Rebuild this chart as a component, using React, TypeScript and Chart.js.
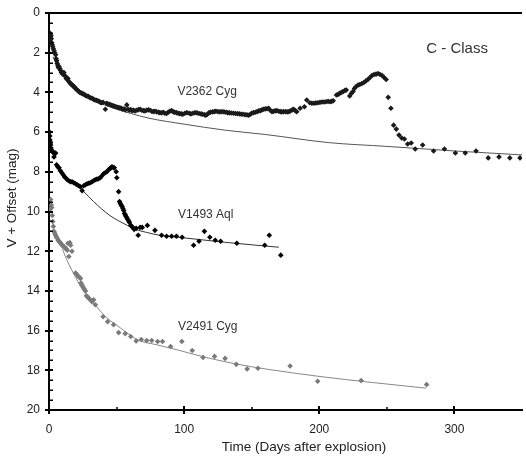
import React, { useEffect, useRef } from "react";
import { Chart, registerables } from "chart.js";

Chart.register(...registerables);

// ---- data: [day, mag] ----
const v2362Days = [0.5,0.8,1.0,1.2,1.5,1.7,2.0,2.4,2.8,3.2,3.7,4.2,4.9,5.3,5.7,6.1,6.6,7.0,7.4,8.0,8.6,9.2,9.8,10.5,11.0,11.6,12.3,12.8,13.5,14.0,14.7,15.3,15.9,16.5,17.2,18.0,18.8,19.6,20.4,21.2,22.0,22.8,23.6,24.4,25.2,26.0,27.0,28.0,29.0,30.0,31.0,32.0,33.0,34.0,35.0,36.0,37.0,38.0,39.0,40.0,41.7,42.5,43.5,44.5,45.5,46.5,47.5,48.5,49.5,50.5,51.5,52.5,53.5,54.5,55.5,56.5,57.6,58.5,59.5,60.5,61.5,62.5,63.7,65,66.2,67.4,68.6,70,71,72.3,73.5,74.8,76,77.2,78.4,79.6,81,82,83.3,84.5,85.7,87,88.2,89.4,90.7,92,93,94.3,95.5,96.7,98,99,100.5,102,103.7,105,106.5,108,109.5,111,112.5,113.5,115,116,117.2,118.4,119.5,121,122.3,123.5,125,126.5,128,129.5,131,132.3,133.5,135,136.5,138,139.5,141,142.3,143.5,145,146.5,147.8,149,150,151.3,152.7,154,155.2,156.4,157.6,158.8,160,161.3,162.5,163.7,165,166.2,167.4,168.6,170,171.2,172.3,173.5,175,176.2,177.5,178.7,180,181,182.2,183.3,185.8,189,190.7,193,194.5,196,197.5,199,200.5,202,203.5,205,206.5,208,209.2,210.3,212.7,214,215,216.3,217.6,219,220,222.5,223.7,225,226,227.3,228.7,230,231.5,233,234.5,236,237.5,239,240.5,242,243.5,245,246.5,248,249.5,251,253,255,257,259,261,263,265.4,268,271,276.5,284.6,292.6,300.7,308,316,325,333,341,348.5];
const v2362Mags = [1.0,1.1,1.25,1.45,1.15,1.3,1.5,1.6,1.7,1.8,1.9,2.0,2.1,2.3,2.4,2.55,2.65,2.75,2.7,2.8,2.9,3.0,3.05,3.1,3.0,3.15,3.2,3.3,3.35,3.3,3.45,3.5,3.55,3.6,3.62,3.7,3.72,3.8,3.85,3.9,3.95,4.0,4.02,4.05,4.08,4.1,4.15,4.18,4.2,4.25,4.28,4.3,4.35,4.38,4.4,4.42,4.45,4.5,4.52,4.5,4.85,4.55,4.58,4.6,4.62,4.65,4.68,4.7,4.72,4.75,4.76,4.78,4.8,4.85,4.82,4.88,4.63,4.85,4.9,4.87,4.92,4.9,4.93,4.9,4.87,4.85,4.9,4.92,4.93,4.9,4.88,4.9,4.95,4.97,4.95,4.98,5.0,5.02,5.03,5.0,5.05,5.06,5.0,4.95,4.92,4.98,5.0,5.02,5.05,5.07,5.08,5.1,5.05,5.02,5.05,5.08,5.05,5.02,5.03,5.06,5.08,5.1,5.12,5.15,5.1,5.02,5.0,4.98,4.97,4.95,4.97,4.98,4.97,4.98,5.0,5.02,5.03,5.04,5.05,5.06,5.07,5.08,5.1,5.1,5.12,5.13,5.15,5.1,5.05,5.02,5.0,4.97,4.93,4.92,4.88,4.85,4.83,4.82,4.8,4.9,4.97,4.95,4.93,4.92,4.95,4.97,4.98,4.97,4.97,4.98,4.97,4.93,4.88,4.85,4.92,4.97,4.8,4.72,4.38,4.52,4.55,4.55,4.53,4.52,4.5,4.48,4.48,4.47,4.45,4.47,4.45,4.42,4.13,4.1,4.05,4.0,3.96,3.9,3.88,4.18,4.05,3.95,3.8,3.7,3.63,3.6,3.55,3.5,3.42,3.35,3.25,3.15,3.1,3.08,3.05,3.1,3.15,3.25,3.35,4.25,4.8,5.65,5.85,6.15,6.3,6.35,6.6,6.55,6.85,6.65,6.95,6.85,7.05,7.05,6.95,7.3,7.25,7.3,7.3];

const v1493Days = [0.4,0.6,0.7,1.0,1.2,1.5,1.7,2.2,2.7,3.2,3.7,4.3,4.9,5.6,6.5,7.4,8.4,9.5,10.5,11.4,12.3,13.5,14.7,15.8,17,18.3,19.6,20.8,22,23.2,24.5,25.7,27,28.2,29.4,30.6,31.8,33,34.2,35.5,36.7,38,39.2,40.4,41.6,42.9,44,45,45.8,46.6,47.5,48.3,49.7,50.2,51.5,52.2,52.8,53.4,54.1,54.7,55.3,55.9,56.5,57,57.7,58.3,59,59.5,60.5,61.2,62,63,64.5,66,67.4,69,72.8,78.4,83.3,87,90.7,94.3,98.5,107,111,115,119,123,127,139,159.6,163,171.5];
const v1493Mags = [6.0,6.2,6.4,6.55,6.65,6.8,6.9,6.95,7.0,7.0,7.25,7.1,7.05,7.65,7.75,7.8,7.95,8.05,8.15,8.25,8.3,8.4,8.45,8.5,8.5,8.55,8.6,8.65,8.7,8.75,8.95,8.7,8.65,8.6,8.58,8.55,8.5,8.45,8.4,8.37,8.35,8.3,8.2,8.1,8.05,8.0,7.9,7.85,7.8,7.75,7.78,7.8,8.0,8.3,9.0,9.5,9.6,9.67,9.75,9.85,9.95,10.1,10.18,10.25,10.33,10.4,10.48,10.55,10.7,10.75,10.8,10.9,10.85,11.2,10.8,10.8,10.7,10.95,11.2,11.25,11.25,11.25,11.3,11.7,11.5,11.0,11.3,11.45,11.5,11.6,11.7,11.2,12.2];

const v2491Days = [0.7,1.2,1.7,2.0,2.4,2.8,3.2,3.7,4.3,4.9,5.5,6.1,6.8,7.4,8.0,8.6,9.2,9.8,10.4,11,11.6,12.3,12.9,13.5,14,14.7,15.4,16,17,19.6,20.4,21.3,22.3,23.3,23.7,24.5,25.2,26,27,27.7,28.5,29.4,30.6,31.8,33,34.3,40,43.4,47.8,51.5,56.4,60.5,64.5,68.3,72.3,76,80.4,84,90,98.3,106,114,122.5,130.3,138.6,146.6,154.6,178.4,198.8,231,279.4];
const v2491Mags = [9.9,9.4,9.67,9.8,10.2,10.5,10.75,11.0,11.1,11.2,11.3,11.35,11.45,11.5,11.55,11.6,11.65,11.7,11.75,11.77,11.8,11.85,11.9,11.95,11.6,12.27,11.57,11.7,12.0,13.1,13.15,13.25,13.3,13.37,13.6,13.7,13.8,13.9,14.0,14.25,14.3,14.37,14.45,14.55,14.45,14.7,15.3,15.55,15.7,16.1,16.15,16.3,16.52,16.45,16.5,16.5,16.55,16.55,16.8,16.55,17.0,17.35,17.3,17.4,17.7,17.93,17.9,17.78,18.55,18.52,18.72];

// fitted curves
const fit2362Days = [3,6,10,15,20,30,40,50,60,74,100,130,160,207,250,300,350];
const fit2362Mags = [2.2,2.65,3.0,3.45,3.75,4.25,4.6,4.85,5.05,5.3,5.6,5.9,6.12,6.53,6.72,6.95,7.15];
const fit1493Days = [20,25,33,45,58,64,72,82,96,130,170];
const fit1493Mags = [8.65,8.95,9.5,10.2,10.7,10.9,11.05,11.2,11.3,11.55,11.8];
const fit2491Days = [10,12,18,25,34,42,55,65,80,91,116,140,160,199,240,279];
const fit2491Mags = [11.9,12.25,13.1,13.95,14.7,15.3,15.97,16.45,16.72,16.9,17.35,17.7,17.93,18.3,18.62,18.9];

const xTickValues = [0, 100, 200, 300];
const xMinorValues = [50, 150, 250];
const yTickValues = [0, 2, 4, 6, 8, 10, 12, 14, 16, 18, 20];

const labelTexts = ["V2362 Cyg", "V1493 Aql", "V2491 Cyg", "C - Class"];
const labelDays = [117, 116, 117.5, 302];
const labelMags = [3.98, 10.18, 15.8, 1.81];

const xTitle = "Time (Days after explosion)";
const yTitle = "V + Offset (mag)";

const pts = (xs: number[], ys: number[]) => xs.map((x, i) => ({ x, y: ys[i] }));

const FONT = "'Liberation Sans', Arial, sans-serif";

const decor = {
  id: "decor",
  afterDraw(chart: any) {
    const { ctx, chartArea: a, scales } = chart;
    const x = scales.x;
    const y = scales.y;
    ctx.save();
    ctx.strokeStyle = "#000";
    const seg = (x1: number, y1: number, x2: number, y2: number) => {
      ctx.beginPath();
      ctx.moveTo(x1, y1);
      ctx.lineTo(x2, y2);
      ctx.stroke();
    };
    ctx.lineWidth = 2;
    seg(a.left - 1, a.top, a.right, a.top);
    for (const v of yTickValues) {
      const p = Math.round(y.getPixelForValue(v));
      seg(a.left - 4, p, a.left + 4, p);
    }
    ctx.lineWidth = 1.5;
    for (let v = 0; v <= 20; v += 0.5) {
      if (v % 2 === 0) continue;
      const p = Math.round(y.getPixelForValue(v)) + 0.25;
      seg(a.left, p, a.left + 4, p);
    }
    ctx.lineWidth = 2;
    for (const v of xTickValues) {
      const p = Math.round(x.getPixelForValue(v));
      seg(p, a.bottom - 4, p, a.bottom + 4);
    }
    ctx.lineWidth = 1.5;
    for (const v of xMinorValues) {
      const p = Math.round(x.getPixelForValue(v));
      seg(p, a.bottom - 3, p, a.bottom);
    }
    ctx.fillStyle = "#333";
    ctx.textAlign = "center";
    ctx.textBaseline = "middle";
    labelTexts.forEach((t, i) => {
      if (i === 3) ctx.font = `15px ${FONT}`;
      else ctx.font = `12px ${FONT}`;
      ctx.fillText(t, x.getPixelForValue(labelDays[i]), y.getPixelForValue(labelMags[i]));
    });
    ctx.fillStyle = "#222";
    ctx.font = `13.5px ${FONT}`;
    ctx.fillText(xTitle, 304, 447);
    ctx.save();
    ctx.translate(12, 198);
    ctx.rotate(-Math.PI / 2);
    ctx.fillText(yTitle, 0, 0);
    ctx.restore();
    ctx.restore();
  },
};

export default function App() {
  const ref = useRef<HTMLCanvasElement | null>(null);
  useEffect(() => {
    document.body.style.margin = "0";
    const c = ref.current!;
    const pointDs = (label: string, xs: number[], ys: number[], color: string) => ({
      type: "scatter" as const,
      label,
      data: pts(xs, ys),
      pointStyle: "rectRot",
      pointRadius: 2.8,
      pointBorderWidth: 0,
      backgroundColor: color,
      borderColor: color,
      showLine: false,
      order: 1,
    });
    const fitDs = (label: string, xs: number[], ys: number[], color: string) => ({
      type: "line" as const,
      label,
      data: pts(xs, ys),
      borderColor: color,
      borderWidth: 1,
      pointRadius: 0,
      fill: false,
      cubicInterpolationMode: "monotone",
      order: 2,
    });
    const chart = new Chart(c, {
      type: "scatter",
      data: {
        datasets: [
          fitDs("fit V2362", fit2362Days, fit2362Mags, "#555"),
          fitDs("fit V1493", fit1493Days, fit1493Mags, "#333"),
          fitDs("fit V2491", fit2491Days, fit2491Mags, "#888"),
          pointDs("V2362 Cyg", v2362Days, v2362Mags, "#1a1a1a"),
          pointDs("V1493 Aql", v1493Days, v1493Mags, "#000"),
          pointDs("V2491 Cyg", v2491Days, v2491Mags, "#7a7a7a"),
        ] as any,
      },
      options: {
        animation: false,
        responsive: false,
        devicePixelRatio: 1,
        layout: { padding: { top: 13, right: 0, left: 0, bottom: 0 } },
        plugins: { legend: { display: false }, tooltip: { enabled: false } },
        scales: {
          x: {
            type: "linear",
            min: 0,
            max: 350,
            afterBuildTicks: (s: any) => {
              s.ticks = xTickValues.map((v) => ({ value: v }));
            },
            afterFit: (s: any) => {
              s.height = 49;
              s.paddingLeft = 0;
              s.paddingRight = 0;
            },
            grid: { display: false, drawTicks: false },
            border: { display: true, color: "#000", width: 2 },
            ticks: { color: "#222", font: { family: FONT, size: 12 }, padding: 12, maxRotation: 0 },
          },
          y: {
            type: "linear",
            reverse: true,
            min: 0,
            max: 20,
            afterBuildTicks: (s: any) => {
              s.ticks = yTickValues.map((v) => ({ value: v }));
            },
            afterFit: (s: any) => {
              s.width = 49;
              s.paddingTop = 0;
              s.paddingBottom = 0;
            },
            grid: { display: false, drawTicks: false },
            border: { display: true, color: "#000", width: 2 },
            ticks: { color: "#222", font: { family: FONT, size: 12 }, padding: 9 },
          },
        },
      } as any,
      plugins: [decor],
    });
    return () => chart.destroy();
  }, []);
  return (
    <div style={{ width: 526, height: 459 }}>
      <canvas ref={ref} width={526} height={459} style={{ display: "block" }} />
    </div>
  );
}
